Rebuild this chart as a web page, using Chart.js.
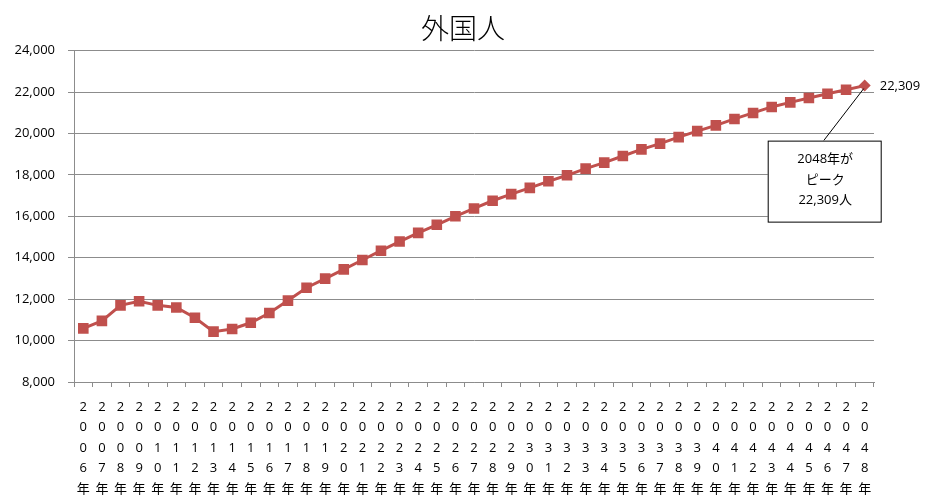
<!DOCTYPE html>
<html lang="ja">
<head>
<meta charset="utf-8">
<script src="https://cdn.jsdelivr.net/npm/chart.js@4"></script>
<style>
  html, body { margin: 0; padding: 0; background: #fff; }
  #wrap { width: 926px; height: 501px; }
</style>
</head>
<body>
<div id="wrap"><canvas id="chart" width="926" height="501"></canvas></div>
<script>
// ---- data ----
const years = [];
for (let y = 2006; y <= 2048; y++) years.push(y);
const foreigners = [
  10590, 10950, 11700, 11900, 11700, 11600, 11100, 10430, 10560, 10860,
  11330, 11930, 12550, 12990, 13440, 13890, 14340, 14780, 15200, 15590,
  16000, 16380, 16750, 17070, 17370, 17690, 17980, 18300, 18590, 18910,
  19230, 19510, 19820, 20110, 20390, 20700, 20990, 21280, 21500, 21710,
  21920, 22110, 22309
];
const yTicks = [8000, 10000, 12000, 14000, 16000, 18000, 20000, 22000, 24000];
const titleText = '外国人';
const calloutLines = ['2048年が', 'ピーク', '22,309人'];

const RED = '#C0504D', GRID = '#8c8c8c';
const FONT = '"Open Sans", "Noto Sans CJK JP", sans-serif';
const lastIdx = foreigners.length - 1;

// stacked vertical year labels: ['2','0','0','6','年']
const xLabels = years.map(y => (String(y) + '年').split(''));

// value label on the last point + callout box pointing to it
const peakCallout = {
  id: 'peakCallout',
  afterDatasetsDraw(chart) {
    const { ctx } = chart;
    const pt = chart.getDatasetMeta(0).data[lastIdx];
    if (!pt) return;
    ctx.save();
    ctx.font = `13px ${FONT}`;
    ctx.fillStyle = '#000';
    ctx.textAlign = 'left'; ctx.textBaseline = 'middle';
    ctx.fillText(foreigners[lastIdx].toLocaleString('en-US'), pt.x + 15, pt.y + 1);

    // callout box below-left of the peak
    const bx = pt.x - 97, by = pt.y + 55, bw = 113, bh = 81;
    ctx.strokeStyle = '#000'; ctx.lineWidth = 1;
    ctx.beginPath(); ctx.moveTo(bx + 56, by); ctx.lineTo(pt.x - 1, pt.y + 3); ctx.stroke();
    ctx.fillStyle = '#fff';
    ctx.fillRect(bx, by, bw, bh);
    ctx.strokeRect(bx + 0.5, by + 0.5, bw, bh);
    ctx.fillStyle = '#000'; ctx.textAlign = 'center';
    calloutLines.forEach((t, i) => ctx.fillText(t, bx + bw / 2 + 1, by + 19 + i * 20.5));
    ctx.restore();
  }
};

new Chart(document.getElementById('chart'), {
  type: 'line',
  data: {
    labels: xLabels,
    datasets: [{
      data: foreigners,
      borderColor: RED, backgroundColor: RED, borderWidth: 3,
      pointStyle: foreigners.map((v, i) => i === lastIdx ? 'rectRot' : 'rect'),
      pointRadius: foreigners.map((v, i) => i === lastIdx ? 6 : 7.5),
      pointBorderWidth: 0, pointBackgroundColor: RED,
      tension: 0
    }]
  },
  options: {
    responsive: false, animation: false,
    layout: { padding: 0 },
    plugins: {
      legend: { display: false }, tooltip: { enabled: false },
      title: { display: true, text: titleText, color: '#000',
        font: { family: '"Noto Sans CJK JP", sans-serif', size: 28, weight: 300, lineHeight: 1.2 },
        padding: { top: 12, bottom: 5 } }
    },
    scales: {
      x: {
        offset: true,
        grid: { display: true, drawOnChartArea: false, drawTicks: true, tickLength: 5, offset: true, color: GRID },
        border: { display: true, color: GRID, width: 1 },
        ticks: { autoSkip: false, maxRotation: 0, minRotation: 0, padding: 10, color: '#000',
          font: { family: FONT, size: 13, lineHeight: '20.5px' } },
        afterFit: (s) => { s.height = 119; }
      },
      y: {
        min: 8000, max: 24000,
        afterBuildTicks: (s) => { s.ticks = yTicks.map(v => ({ value: v })); },
        grid: { color: GRID, lineWidth: 1, tickLength: 6, drawTicks: true },
        border: { display: true, color: GRID, width: 1 },
        ticks: { padding: 13, color: '#000', font: { family: FONT, size: 13 },
          callback: (v) => Number(v).toLocaleString('en-US') },
        afterFit: (s) => { s.width = 74; }
      },
      // empty right-hand gutter so the title stays centred on the whole canvas
      yGutter: {
        position: 'right', min: 8000, max: 24000,
        grid: { display: false }, border: { display: false }, ticks: { display: false },
        afterFit: (s) => { s.width = 52; }
      }
    }
  },
  plugins: [peakCallout]
});
</script>
</body>
</html>
